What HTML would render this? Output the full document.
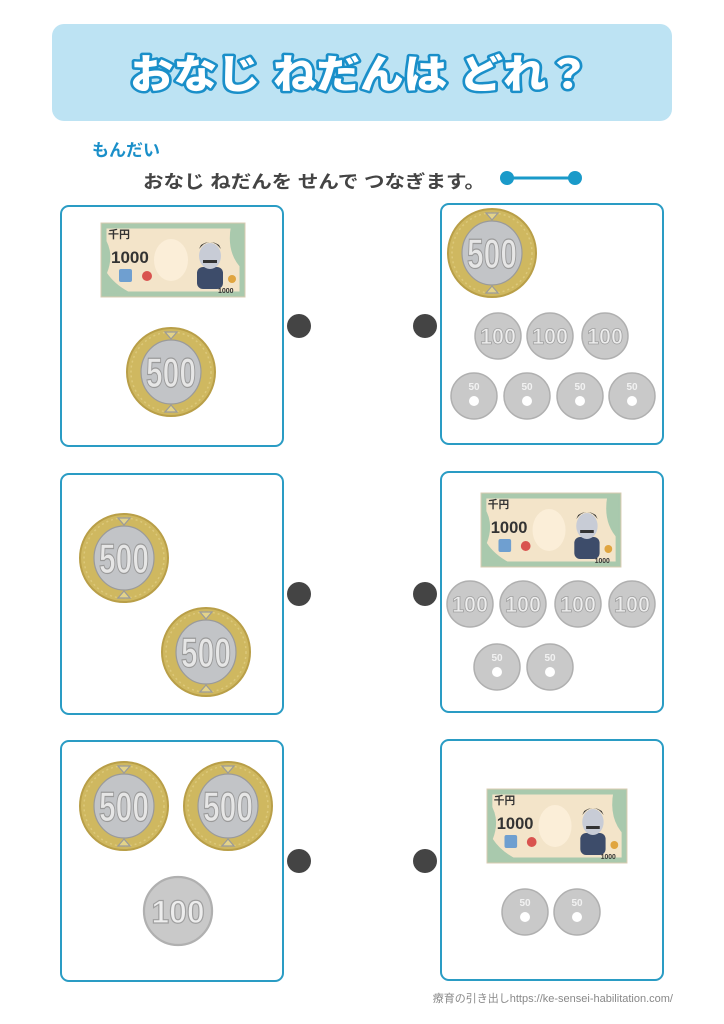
<!DOCTYPE html>
<html><head><meta charset="utf-8"><style>
html,body{margin:0;padding:0;background:#fff;width:724px;height:1024px;overflow:hidden}
svg{display:block}
text{font-family:"Liberation Sans","Noto Sans CJK JP",sans-serif}
</style></head><body>
<svg width="724" height="1024" viewBox="0 0 724 1024" xmlns="http://www.w3.org/2000/svg">
<defs>
<g id="c500">
<circle r="44" fill="#cfb860" stroke="#b99f48" stroke-width="2"/>
<circle r="40" fill="none" stroke="#dcc87a" stroke-width="1.5" stroke-dasharray="2 3"/>
<ellipse rx="30" ry="32" fill="#c2c4c7"/>
<path d="M-6,-40 L0,-33 L6,-40 Z M-6,40 L0,33 L6,40 Z" fill="#e3d38a"/>
</g>
<g id="c100"><circle r="23" fill="#c9c9c9" stroke="#b0b0b0" stroke-width="1.5"/></g>
<g id="c50"><circle r="23" fill="#c9c9c9" stroke="#b0b0b0" stroke-width="1.5"/><circle cy="5" r="5" fill="#fff"/></g>
<g id="note">
<rect x="0" y="0" width="144" height="74" fill="#f3e4c9" stroke="#d9cbb0"/>
<rect x="3" y="3" width="138" height="68" fill="none" stroke="#a9c9ad" stroke-width="5"/>
<path d="M3,14 Q14,30 6,50 Q14,62 30,70 L3,71 Z" fill="#a9c9ad"/>
<path d="M130,3 Q125,30 141,46 L141,3 Z" fill="#a9c9ad"/>
<ellipse cx="70" cy="37" rx="17" ry="21" fill="#fbeed8"/>
<rect x="96" y="44" width="26" height="22" rx="6" fill="#3d4c6a"/>
<ellipse cx="109" cy="33" rx="11" ry="13" fill="#c8ccd6"/>
<path d="M98,26 Q109,12 120,26 L118,22 Q109,16 100,22 Z" fill="#333"/>
<rect x="102" y="37" width="14" height="3" fill="#333"/>
<rect x="18" y="46" width="13" height="13" rx="2" fill="#6f9fd0"/>
<circle cx="46" cy="53" r="5" fill="#d9534f"/>
<circle cx="131" cy="56" r="4" fill="#e0a540"/>
</g>
</defs>

<rect x="52" y="24" width="620" height="97" rx="12" fill="#bde3f3"/>
<text x="360" y="88" text-anchor="middle" font-size="40" font-weight="900" fill="#fff" stroke="#1a8fc9" stroke-width="5" paint-order="stroke" stroke-linejoin="round" textLength="460" lengthAdjust="spacingAndGlyphs">おなじ ねだんは どれ？</text>

<text x="92" y="156" font-size="17" font-weight="bold" fill="#1a8fc9">もんだい</text>
<text x="143" y="188" font-size="18" font-weight="bold" fill="#444" textLength="342" lengthAdjust="spacingAndGlyphs">おなじ ねだんを せんで つなぎます。</text>
<line x1="507" y1="178" x2="575" y2="178" stroke="#1a9ac9" stroke-width="3"/>
<circle cx="507" cy="178" r="7" fill="#1a9ac9"/><circle cx="575" cy="178" r="7" fill="#1a9ac9"/>

<g fill="none" stroke="#2a9cc4" stroke-width="2">
<rect x="61" y="206" width="222" height="240" rx="8"/>
<rect x="441" y="204" width="222" height="240" rx="8"/>
<rect x="61" y="474" width="222" height="240" rx="8"/>
<rect x="441" y="472" width="222" height="240" rx="8"/>
<rect x="61" y="741" width="222" height="240" rx="8"/>
<rect x="441" y="740" width="222" height="240" rx="8"/>
</g>
<g fill="#444">
<circle cx="299" cy="326" r="12"/><circle cx="425" cy="326" r="12"/>
<circle cx="299" cy="594" r="12"/><circle cx="425" cy="594" r="12"/>
<circle cx="299" cy="861" r="12"/><circle cx="425" cy="861" r="12"/>
</g>

<g transform="translate(101,223)"><use href="#note"/><text x="7" y="15" font-size="11" font-weight="bold" fill="#333">千円</text><text x="10" y="40" font-size="17" font-weight="bold" fill="#333">1000</text><text x="117" y="70" font-size="7" font-weight="bold" fill="#333">1000</text></g>
<g transform="translate(481,493) scale(0.972,1)"><use href="#note"/><text x="7" y="15" font-size="11" font-weight="bold" fill="#333">千円</text><text x="10" y="40" font-size="17" font-weight="bold" fill="#333">1000</text><text x="117" y="70" font-size="7" font-weight="bold" fill="#333">1000</text></g>
<g transform="translate(487,789) scale(0.972,1)"><use href="#note"/><text x="7" y="15" font-size="11" font-weight="bold" fill="#333">千円</text><text x="10" y="40" font-size="17" font-weight="bold" fill="#333">1000</text><text x="117" y="70" font-size="7" font-weight="bold" fill="#333">1000</text></g>

<g font-weight="bold" font-size="42" fill="#e6e6e6" stroke="#9a9a9a" stroke-width="1.2" text-anchor="middle">
<g transform="translate(171,372)"><use href="#c500"/><text y="15" textLength="50" lengthAdjust="spacingAndGlyphs">500</text></g>
<g transform="translate(492,253)"><use href="#c500"/><text y="15" textLength="50" lengthAdjust="spacingAndGlyphs">500</text></g>
<g transform="translate(124,558)"><use href="#c500"/><text y="15" textLength="50" lengthAdjust="spacingAndGlyphs">500</text></g>
<g transform="translate(206,652)"><use href="#c500"/><text y="15" textLength="50" lengthAdjust="spacingAndGlyphs">500</text></g>
<g transform="translate(124,806)"><use href="#c500"/><text y="15" textLength="50" lengthAdjust="spacingAndGlyphs">500</text></g>
<g transform="translate(228,806)"><use href="#c500"/><text y="15" textLength="50" lengthAdjust="spacingAndGlyphs">500</text></g>
</g>

<g font-family="Liberation Serif" font-weight="bold" font-size="22" fill="#ededed" stroke="#a0a0a0" stroke-width="0.8" text-anchor="middle">
<g transform="translate(498,336)"><use href="#c100"/><text y="8" textLength="36" lengthAdjust="spacingAndGlyphs">100</text></g>
<g transform="translate(550,336)"><use href="#c100"/><text y="8" textLength="36" lengthAdjust="spacingAndGlyphs">100</text></g>
<g transform="translate(605,336)"><use href="#c100"/><text y="8" textLength="36" lengthAdjust="spacingAndGlyphs">100</text></g>
<g transform="translate(470,604)"><use href="#c100"/><text y="8" textLength="36" lengthAdjust="spacingAndGlyphs">100</text></g>
<g transform="translate(523,604)"><use href="#c100"/><text y="8" textLength="36" lengthAdjust="spacingAndGlyphs">100</text></g>
<g transform="translate(578,604)"><use href="#c100"/><text y="8" textLength="36" lengthAdjust="spacingAndGlyphs">100</text></g>
<g transform="translate(632,604)"><use href="#c100"/><text y="8" textLength="36" lengthAdjust="spacingAndGlyphs">100</text></g>
<g transform="translate(178,911) scale(1.48)"><use href="#c100"/><text y="8" textLength="36" lengthAdjust="spacingAndGlyphs">100</text></g>
</g>

<g font-weight="bold" font-size="10" fill="#f2f2f2" text-anchor="middle">
<g transform="translate(474,396)"><use href="#c50"/><text y="-6">50</text></g>
<g transform="translate(527,396)"><use href="#c50"/><text y="-6">50</text></g>
<g transform="translate(580,396)"><use href="#c50"/><text y="-6">50</text></g>
<g transform="translate(632,396)"><use href="#c50"/><text y="-6">50</text></g>
<g transform="translate(497,667)"><use href="#c50"/><text y="-6">50</text></g>
<g transform="translate(550,667)"><use href="#c50"/><text y="-6">50</text></g>
<g transform="translate(525,912)"><use href="#c50"/><text y="-6">50</text></g>
<g transform="translate(577,912)"><use href="#c50"/><text y="-6">50</text></g>
</g>

<text x="673" y="1002" text-anchor="end" font-size="11" fill="#888">療育の引き出しhttps://ke-sensei-habilitation.com/</text>
</svg>
</body></html>
